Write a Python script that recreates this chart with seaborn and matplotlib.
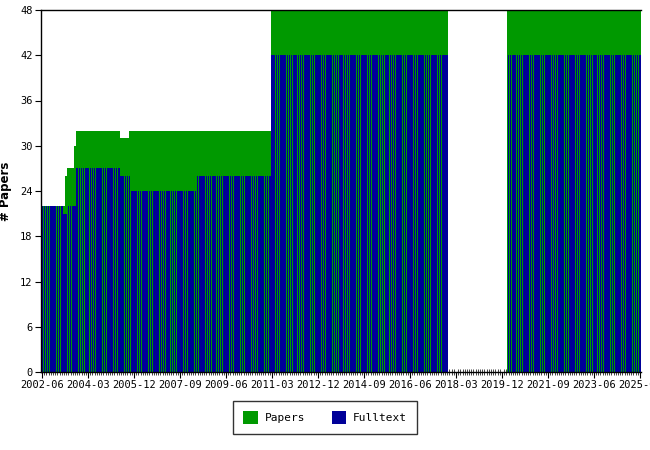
import numpy as np
import pandas as pd
import matplotlib
matplotlib.use("Agg")
import matplotlib.pyplot as plt
import seaborn as sns

# Monthly values (value, number of months)
start_month = "2002-06"
papers_levels = [22, 26, 27, 30, 32, 31, 32, 48, 0, 48]
papers_runs = [11, 1, 3, 1, 20, 4, 65, 81, 27, 61]
fulltext_levels = [22, 21, 22, 27, 26, 24, 26, 42, 0, 42]
fulltext_runs = [10, 2, 4, 20, 5, 30, 34, 81, 27, 61]

papers = np.repeat(papers_levels, papers_runs)
fulltext = np.repeat(fulltext_levels, fulltext_runs)
months = pd.period_range(start_month, periods=len(papers), freq="M").strftime("%Y-%m")
df = pd.DataFrame({"month": months, "papers": papers, "fulltext": fulltext})

sns.set_style("ticks")
plt.rcParams["font.family"] = ["DejaVu Sans Mono", "DejaVu Sans"]

green = "#009900"
blue = "#000099"

fig = plt.figure(figsize=(6.5, 4.5), dpi=100)
ax = fig.add_axes([41 / 650, 1 - 372 / 450, 600 / 650, 362 / 450])

sns.barplot(data=df, x="month", y="papers", color=green, saturation=1,
            width=1.0, linewidth=0, antialiased=False, ax=ax, label="Papers")
sns.barplot(data=df, x="month", y="fulltext", color=blue, saturation=1,
            width=0.7, linewidth=0, antialiased=False, ax=ax, label="Fulltext")
if ax.get_legend() is not None:
    ax.get_legend().remove()

n = len(df)
ax.set_xlim(-0.5, n - 0.5)
ax.set_ylim(0, 48)
ax.set_yticks(range(0, 49, 6))
major = list(range(0, n, 21))
ax.set_xticks(major, [df["month"][i] for i in major])
ax.set_xticks(range(n), minor=True)
ax.set_axisbelow(True)
ax.tick_params(axis="both", which="major", labelsize=7.5, length=4, width=0.8,
               direction="out", colors="black", pad=2)
ax.tick_params(axis="x", which="minor", length=5, width=0.6, direction="inout")

ax.set_xlabel("")
ax.set_ylabel("# Papers", fontsize=8.5, fontweight="bold", family="DejaVu Sans",
              color="black", labelpad=6)
ax.spines["right"].set_visible(False)
for s in ["left", "bottom", "top"]:
    ax.spines[s].set_color("black")
    ax.spines[s].set_linewidth(1)

handles, labels = ax.get_legend_handles_labels()
leg = fig.legend(handles[:2], ["Papers", "Fulltext"], loc="center",
                 bbox_to_anchor=(0.5, 32.5 / 450), ncol=2, fontsize=8,
                 frameon=True, fancybox=False, edgecolor="black",
                 handlelength=1.3, handleheight=1.3, handletextpad=0.6,
                 columnspacing=2.4, borderpad=0.9)
leg.get_frame().set_linewidth(1)
for t in leg.get_texts():
    t.set_color("black")

fig.savefig("out.png", dpi=100)
